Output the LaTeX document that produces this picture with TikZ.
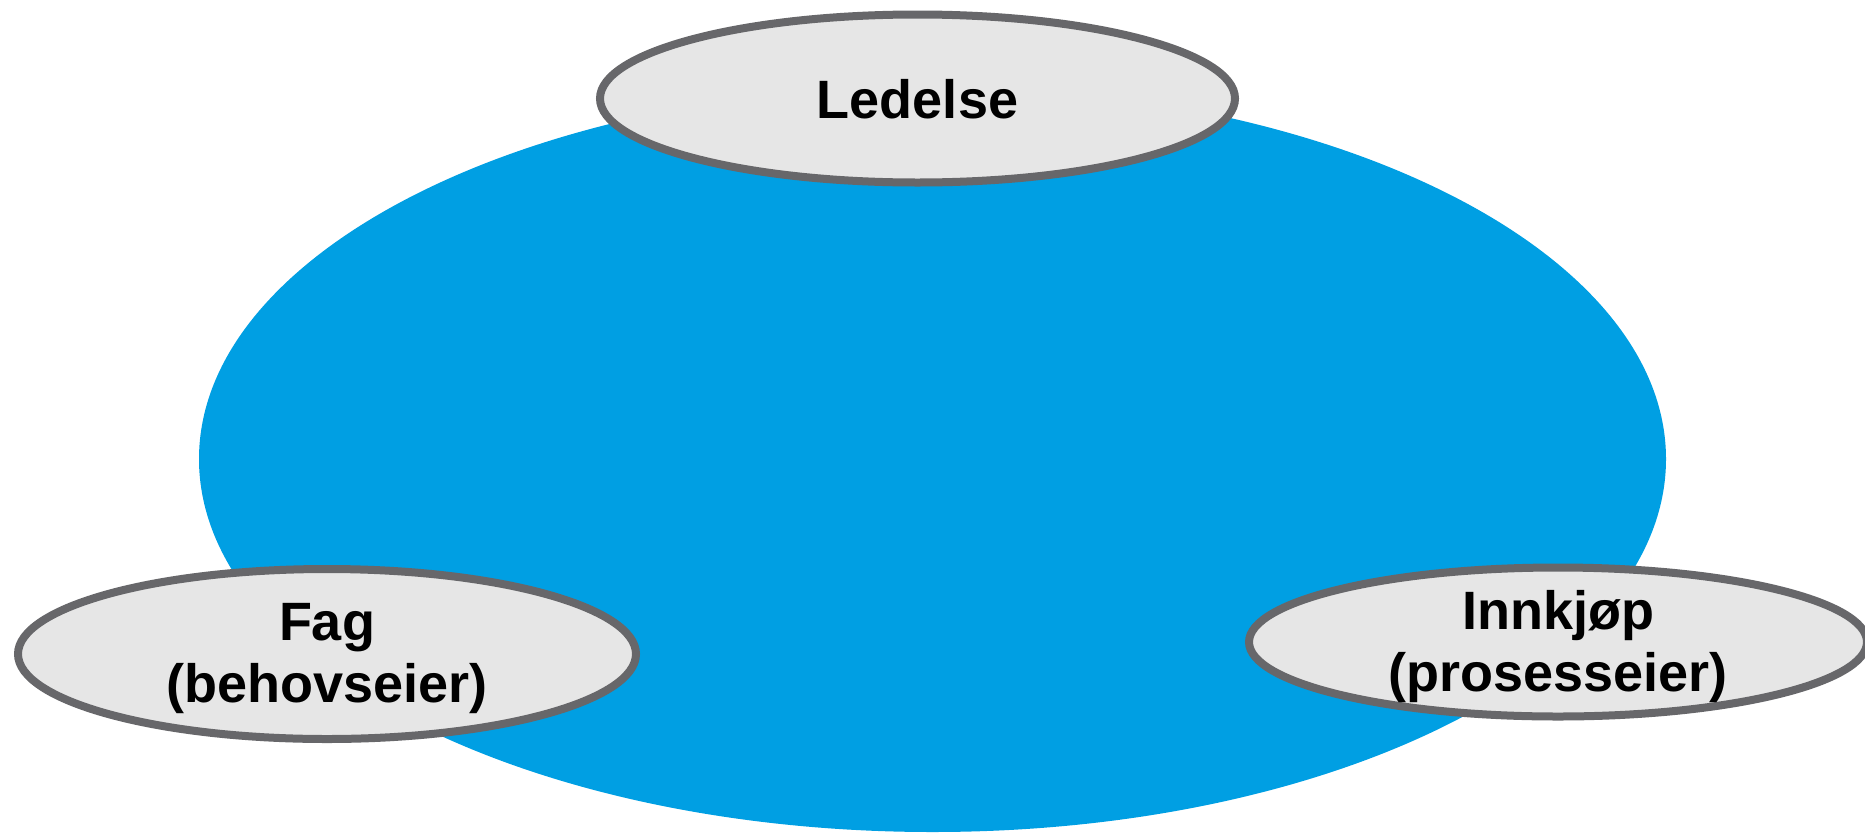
\documentclass[tikz,border=0pt]{standalone}
\usepackage{fontspec}
\setmainfont{Liberation Sans}
\usetikzlibrary{shapes.geometric}
\definecolor{arenablue}{RGB}{0,159,227}
\definecolor{rimgray}{RGB}{103,103,106}
\definecolor{padgray}{RGB}{230,230,230}
\tikzset{
  arena/.style={ellipse, fill=arenablue, inner sep=0pt, minimum width=1467pt, minimum height=746pt},
  pad/.style={ellipse, fill=padgray, draw=rimgray, line width=8pt, inner sep=0pt},
  tag/.style={font=\fontsize{54}{62}\selectfont\bfseries, align=center, inner sep=0pt}
}
\begin{document}
\begin{tikzpicture}[x=1pt,y=-1pt]
  \useasboundingbox (0,0) rectangle (1865,833);
  \node[arena] (arena) at (932.5,459) {};
  \draw
    (917.5,98.5) node[pad, minimum width=635pt, minimum height=168pt] (ledelse){}
    (327,654) node[pad, minimum width=618pt, minimum height=170pt] (fag){}
    (1558,642) node[pad, minimum width=618pt, minimum height=149pt] (innkjop){};
  \node[tag, yshift=-1pt] (ledelsetext) at (ledelse) {Ledelse};
  \node[tag, yshift=-5pt] (fagtext) at (fag) {Fag\\(behovseier)};
  \node[tag, yshift=-5pt] (innkjoptext) at (innkjop) {Innkjøp\\(prosesseier)};
\end{tikzpicture}
\end{document}
